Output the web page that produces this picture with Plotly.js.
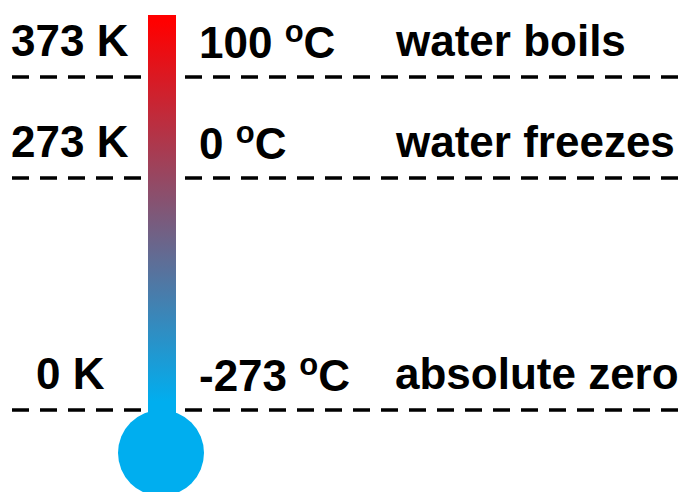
<!DOCTYPE html>
<html>
<head>
<meta charset="utf-8">
<script src="https://cdn.plot.ly/plotly-3.0.1.min.js"></script>
<style>html,body{margin:0;padding:0;background:#fff;}#chart{width:689px;height:492px;}</style>
</head>
<body>
<div id="chart"></div>
<script>
// ---- data ----
const kelvinLabels  = ["373 K", "273 K", "0 K"];
const celsiusValues = ["100", "0", "-273"];
const eventLabels   = ["water boils", "water freezes", "absolute zero"];
// schematic vertical position of each level in the diagram (pixel-like units)
const levelY = [77, 178, 410];
// thermometer tube outline and bulb
const tubeX = [148, 176, 176, 148, 148];
const tubeY = [15, 15, 414, 414, 15];

// ---- styles / layout ----
const W = 689, H = 492;
const labelOffset = -37;
const fontFam = "Liberation Sans, Arial, Helvetica, sans-serif";
const txtFont = {family: fontFam, size: 44, color: "#000", weight: "bold"};
const degO = '<span style="font-size:37px"><sup><span style="font-size:31px">o</span></sup></span>';

const traces = [];
levelY.forEach(function (y) {
  traces.push({
    type: "scatter", mode: "lines",
    x: [12, 148, null, 185, 689],
    y: [y, y, null, y, y],
    line: {color: "#000", width: 3.5, dash: "17px,11px"},
    hoverinfo: "skip", showlegend: false
  });
});
traces.push({
  type: "scatter", mode: "lines",
  x: tubeX, y: tubeY,
  fill: "toself",
  fillcolor: "#8a4a70",
  fillgradient: {type: "vertical", start: 402, stop: 22,
                 colorscale: [[0, "#00aeef"], [1, "#ff0000"]]},
  line: {width: 0},
  hoverinfo: "skip", showlegend: false
});

const annotations = [];
levelY.forEach(function (y, i) {
  annotations.push({x: 70, y: y + labelOffset, text: kelvinLabels[i], xanchor: "center", yanchor: "middle", showarrow: false, font: txtFont});
  annotations.push({x: 197, y: y + labelOffset, text: celsiusValues[i] + " " + degO + "C", xanchor: "left", yanchor: "middle", showarrow: false, font: txtFont});
  annotations.push({x: 393, y: y + labelOffset, text: eventLabels[i], xanchor: "left", yanchor: "middle", showarrow: false, font: txtFont});
});

const layout = {
  width: W, height: H,
  margin: {l: 0, r: 0, t: 0, b: 0},
  paper_bgcolor: "#fff", plot_bgcolor: "#fff",
  showlegend: false,
  xaxis: {range: [0, W], visible: false, fixedrange: true},
  yaxis: {range: [H, 0], visible: false, fixedrange: true},
  shapes: [{
    type: "circle", xref: "x", yref: "y",
    x0: 118, x1: 204, y0: 410, y1: 496,
    fillcolor: "#00aeef", line: {width: 0}, layer: "above"
  }],
  annotations: annotations
};

Plotly.newPlot("chart", traces, layout, {displayModeBar: false, staticPlot: true});
</script>
</body>
</html>
